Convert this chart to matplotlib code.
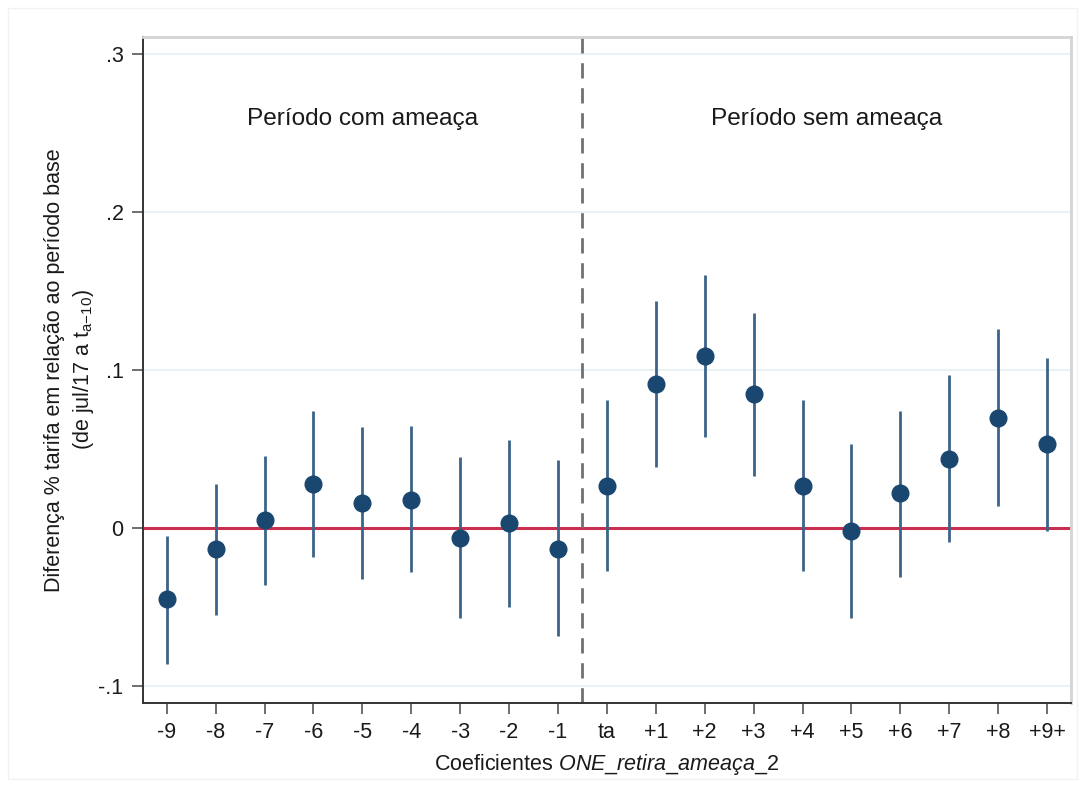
import matplotlib
matplotlib.use("Agg")
import matplotlib.pyplot as plt
from matplotlib.patches import Rectangle

plt.rcParams['font.family'] = ['Liberation Sans', 'DejaVu Sans']
plt.rcParams['mathtext.fontset'] = 'custom'
plt.rcParams['mathtext.rm'] = 'Liberation Sans'
plt.rcParams['mathtext.it'] = 'Liberation Sans:italic'

# event-study coefficients and 95% CIs
labels = ['-9', '-8', '-7', '-6', '-5', '-4', '-3', '-2', '-1',
          'ta', '+1', '+2', '+3', '+4', '+5', '+6', '+7', '+8', '+9+']
coef = [-0.045, -0.013, 0.005, 0.028, 0.016, 0.018, -0.006, 0.003, -0.013,
        0.027, 0.091, 0.109, 0.085, 0.027, -0.002, 0.022, 0.044, 0.070, 0.053]
ci_low = [-0.086, -0.055, -0.036, -0.018, -0.032, -0.028, -0.057, -0.050, -0.068,
          -0.027, 0.039, 0.058, 0.033, -0.027, -0.057, -0.031, -0.009, 0.014, -0.002]
ci_high = [-0.005, 0.028, 0.046, 0.074, 0.064, 0.065, 0.045, 0.056, 0.043,
           0.081, 0.144, 0.160, 0.136, 0.081, 0.053, 0.074, 0.097, 0.126, 0.108]
yticks = [-0.1, 0, 0.1, 0.2, 0.3]
ytick_labels = ['-.1', '0', '.1', '.2', '.3']

navy = '#1a476f'
pos = list(range(len(labels)))

fig = plt.figure(figsize=(10.85, 7.87), dpi=100)
fig.patches.append(Rectangle((8 / 1085, 8 / 787), 1 - 16 / 1085, 1 - 16 / 787,
                             transform=fig.transFigure, fill=False,
                             edgecolor='#f2f2f2', linewidth=1))
ax = fig.add_axes([143 / 1085, 1 - 703 / 787, (1071 - 143) / 1085, (703 - 37) / 787])

for y in [-0.1, 0.1, 0.2, 0.3]:
    ax.axhline(y, color='#e6f0f2', linewidth=1.3, zorder=0)
ax.axhline(0, color='#c9304f', linewidth=2.2, zorder=1)
ax.axvline(8.5, color='#707070', linewidth=2, linestyle=(0, (5.5, 3.5)), zorder=1)

ax.vlines(pos, ci_low, ci_high, color='#3c6389', linewidth=2.0, zorder=2)
ax.plot(pos, coef, 'o', color=navy, markersize=12, zorder=3)

ax.text(4, 0.259, 'Período com ameaça', ha='center', va='center', fontsize=17.6, color='#1a1a1a')
ax.text(13.5, 0.259, 'Período sem ameaça', ha='center', va='center', fontsize=17.6, color='#1a1a1a')

ax.set_xlim(-0.485, 18.49)
ax.set_ylim(-0.1107, 0.311)
ax.set_xticks(pos)
ax.set_xticklabels(labels)
ax.set_yticks(yticks)
ax.set_yticklabels(ytick_labels)
ax.tick_params(axis='both', direction='out', length=8, width=1.2, color='#555555',
               labelsize=15.5, labelcolor='#1a1a1a', pad=6)

for side in ['left', 'bottom']:
    ax.spines[side].set_color('#333333')
    ax.spines[side].set_linewidth(1.4)
for side in ['top', 'right']:
    ax.spines[side].set_color('#d4d4d4')
    ax.spines[side].set_linewidth(2)

ax.set_xlabel(r'Coeficientes $\mathit{ONE\_retira\_ameaça\_2}$', fontsize=15.5,
              color='#1a1a1a', labelpad=6)
ax.set_ylabel('Diferença % tarifa em relação ao período base\n'
              r'(de jul/17 a t$_{\mathrm{a{-}10}}$)', fontsize=15.5, color='#1a1a1a',
              labelpad=2, linespacing=1.3)

fig.savefig('out.png', dpi=100, facecolor='white')
